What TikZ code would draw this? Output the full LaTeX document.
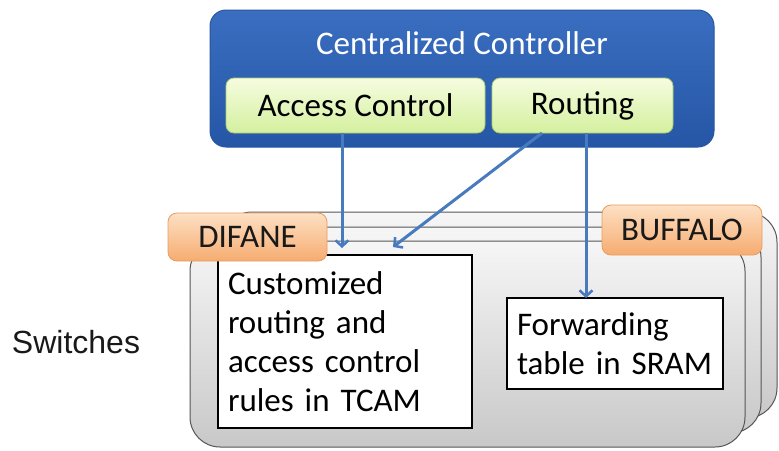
\documentclass[tikz,border=0pt]{standalone}
\usepackage{fontspec}
\setmainfont{Carlito}
\newfontfamily\arialf{Liberation Sans}
\usetikzlibrary{arrows.meta}
\definecolor{ctrlTop}{RGB}{58,110,192}
\definecolor{ctrlBot}{RGB}{38,86,166}
\definecolor{ctrlBorder}{RGB}{40,86,160}
\definecolor{grTop}{RGB}{246,252,224}
\definecolor{grBot}{RGB}{212,240,158}
\definecolor{grBorder}{RGB}{170,205,110}
\definecolor{orTop}{RGB}{253,224,196}
\definecolor{orBot}{RGB}{246,172,112}
\definecolor{orBorder}{RGB}{232,156,96}
\definecolor{swTop}{RGB}{246,246,246}
\definecolor{swBot}{RGB}{200,200,200}
\definecolor{swBorder}{RGB}{85,85,85}
\definecolor{arrBlue}{RGB}{72,122,190}
\begin{document}
\begin{tikzpicture}[x=1pt,y=-1pt,
  every node/.style={inner sep=0pt, outer sep=0pt},
  boxnw/.style={anchor=north west},
  ctrlbox/.style={boxnw, rounded corners=16pt, top color=ctrlTop, bottom color=ctrlBot, draw=ctrlBorder, line width=1pt},
  funcbox/.style={boxnw, rounded corners=8pt, top color=grTop, bottom color=grBot, draw=grBorder, line width=0.8pt, font=\fontsize{33}{38}\selectfont, text=black},
  tagbox/.style={boxnw, rounded corners=9pt, top color=orTop, bottom color=orBot, draw=orBorder, line width=0.8pt, font=\fontsize{33}{38}\selectfont, text=black!90},
  switchbox/.style={boxnw, rounded corners=30pt, top color=swTop, bottom color=swBot, draw=swBorder, line width=1pt},
  membox/.style={boxnw, fill=white, draw=black, line width=1.5pt, align=left, font=\fontsize{33}{39}\selectfont, inner xsep=10pt},
  arr/.style={draw=arrBlue, line width=3pt, -{Straight Barb[length=6pt,width=13pt,line width=2.5pt]}}
]
\useasboundingbox (0,0) rectangle (779,450);
% controller
\node[ctrlbox, minimum width=504pt, minimum height=137pt] (ctrl) at (210,10) {};
\node[text=white, font=\fontsize{33}{38}\selectfont] (title) at (462,43) {Centralized Controller};
\node[funcbox, minimum width=259pt, minimum height=55pt] (ac) at (226,78) {Access Control};
\node[funcbox, minimum width=181pt, minimum height=55pt] (rt) at (492,78) {Routing};
% switches
\node[switchbox, minimum width=555pt, minimum height=206pt] (sw3) at (222,212) {};
\node[switchbox, minimum width=555pt, minimum height=206pt] (sw2) at (206,227) {};
\node[switchbox, minimum width=555pt, minimum height=206pt] (sw1) at (190,241) {};
\node[membox, text width=234pt, minimum height=173pt] (tcam) at (218,255) {Customized\\routing and\\access control\\rules in TCAM};
\node[membox, text width=196pt, minimum height=91pt] (sram) at (507,298) {Forwarding\\table in SRAM};
\node[tagbox, minimum width=159pt, minimum height=48pt] (difane) at (168,213) {DIFANE};
\node[tagbox, minimum width=160pt, minimum height=50pt] (buffalo) at (602,205) {BUFFALO};
\node[font=\arialf\fontsize{32}{36}\selectfont, text=black!90] (switches) at (76,342) {Switches};
% arrows
\coordinate (t1) at (342,248);
\coordinate (s2) at (542,133);
\coordinate (t2) at (393,247);
\coordinate (s3) at (586,133);
\draw[arr] (ac.south -| t1) -- (t1);
\draw[arr] (s2) -- (t2);
\draw[arr] (s3) -- (s3 |- sram.north);
\end{tikzpicture}
\end{document}
